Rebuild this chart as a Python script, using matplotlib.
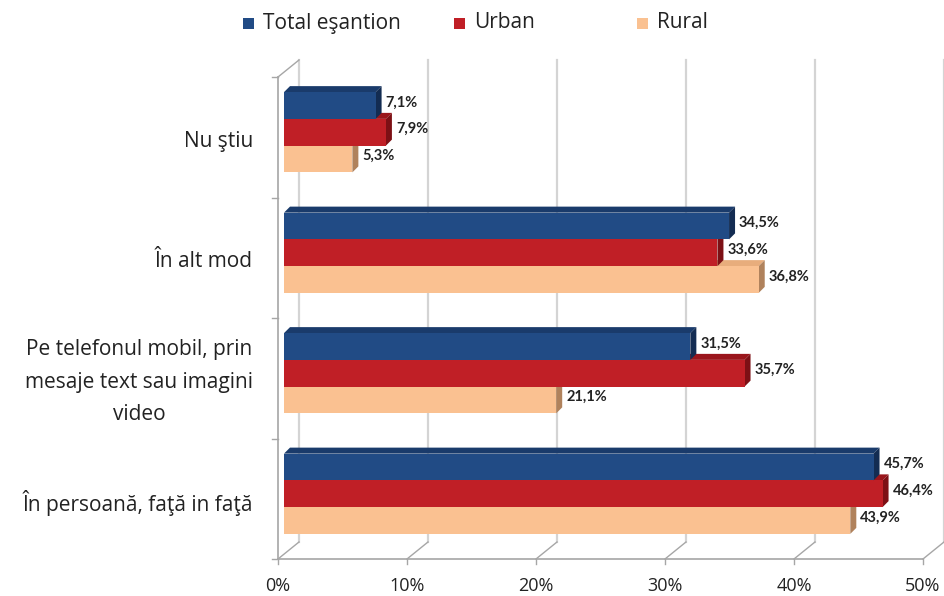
import matplotlib
matplotlib.use("Agg")
import matplotlib.pyplot as plt
from matplotlib.patches import Polygon, Rectangle

plt.rcParams['font.family'] = ['Open Sans', 'DejaVu Sans']

categories = ["Nu ştiu", "În alt mod",
              "Pe telefonul mobil, prin\nmesaje text sau imagini\nvideo",
              "În persoană, faţă in faţă"]
series_names = ["Total eşantion", "Urban", "Rural"]
total = [7.1, 34.5, 31.5, 45.7]
urban = [7.9, 33.6, 35.7, 46.4]
rural = [5.3, 36.8, 21.1, 43.9]
series_values = [total, urban, rural]
xticks = [0, 10, 20, 30, 40, 50]
xtick_labels = ["0%", "10%", "20%", "30%", "40%", "50%"]

front_cols = ["#214b85", "#c01f26", "#fac191"]
top_cols = ["#1a3b6b", "#9a161c", "#e8ad7c"]
side_cols = ["#132c52", "#7d1015", "#b0825c"]

W, H = 944, 596
fig = plt.figure(figsize=(W / 100, H / 100), dpi=100)
L, R, T, B = 278, 923, 77, 559
ax = fig.add_axes([L / W, 1 - B / H, (R - L) / W, (B - T) / H])
ax.set_xlim(0, 50)
ax.set_ylim(3.5, -0.5)
ax.axis("off")

sx = (R - L) / 50.0      # px per %
sy = (B - T) / 4.0       # px per category
def dx(px):
    return px / sx
def dy(px):  # px downward in image -> data units (y inverted)
    return px / sy

grid_c = "#d4d4d4"
axis_c = "#a6a6a6"
txt_c = "#222222"
bdx, bdy = dx(21), dy(-17)   # back wall offset

for xt, xl in zip(xticks, xtick_labels):
    ax.plot([xt + bdx, xt + bdx], [-0.5 + bdy, 3.5 + bdy], color=grid_c, lw=1.6,
            clip_on=False, zorder=1)
    ax.plot([xt, xt + bdx], [3.5, 3.5 + bdy], color=axis_c, lw=1.0, clip_on=False, zorder=1)
    ax.plot([xt, xt], [3.5, 3.5 + dy(5)], color=axis_c, lw=1.0, clip_on=False, zorder=1)
    ax.text(xt, 3.5 + dy(27), xl, ha="center", va="center",
            fontsize=13, color=txt_c, fontweight="medium")
ax.plot([0, 50], [3.5, 3.5], color=axis_c, lw=1.2, clip_on=False, zorder=2)
ax.plot([0, 0], [-0.5, 3.5], color=axis_c, lw=1.2, clip_on=False, zorder=2)
ax.plot([0, bdx], [-0.5, -0.5 + bdy], color=axis_c, lw=1.0, clip_on=False, zorder=2)
for k in range(5):
    yb = -0.5 + k
    ax.plot([0, -dx(6)], [yb, yb], color=axis_c, lw=1.0, clip_on=False, zorder=2)

for i, c in enumerate(categories):
    ax.text(-dx(25), i + dy(4), c, ha="right", va="center", multialignment="center",
            fontsize=15, color=txt_c, linespacing=1.72, fontweight="medium")

ox, oy = dx(6), dy(-5)
ddx, ddy = dx(6), dy(-6)
bh = 0.222
offsets = [-bh, 0.0, bh]
for s, vals in enumerate(series_values):
    for i, v in enumerate(vals):
        yc = i + offsets[s] + oy
        y0, y1 = yc - bh / 2, yc + bh / 2
        x0, x1 = ox, ox + v
        z = 10 - 2 * s
        ax.add_patch(Polygon([(x0, y0), (x1, y0), (x1 + ddx, y0 + ddy), (x0 + ddx, y0 + ddy)],
                             closed=True, facecolor=top_cols[s], edgecolor="none",
                             zorder=z, clip_on=False))
        ax.add_patch(Polygon([(x1, y0), (x1 + ddx, y0 + ddy), (x1 + ddx, y1 + ddy), (x1, y1)],
                             closed=True, facecolor=side_cols[s], edgecolor="none",
                             zorder=z, clip_on=False))
        ax.add_patch(Rectangle((x0, y0), v, bh, facecolor=front_cols[s], edgecolor="none",
                               zorder=z + 0.5, clip_on=False))
        lab = ("%.1f%%" % v).replace(".", ",")
        ax.text(x1 + ddx + dx(4), yc + ddy / 2, lab, ha="left", va="center",
                fontsize=10.5, fontweight="bold", color=txt_c, zorder=20,
                family=["Lato", "DejaVu Sans"])

leg_x = [248, 459, 642]
for s, name in enumerate(series_names):
    fig.patches.append(Rectangle(((leg_x[s] - 5) / W, 1 - 29 / H), 11 / W, 11 / H,
                                 transform=fig.transFigure, facecolor=front_cols[s],
                                 edgecolor="none"))
    fig.text((leg_x[s] + 15) / W, 1 - 23 / H, name, ha="left", va="center",
             fontsize=15, color=txt_c, fontweight="medium")

fig.savefig("out.png", dpi=100, facecolor="white")
